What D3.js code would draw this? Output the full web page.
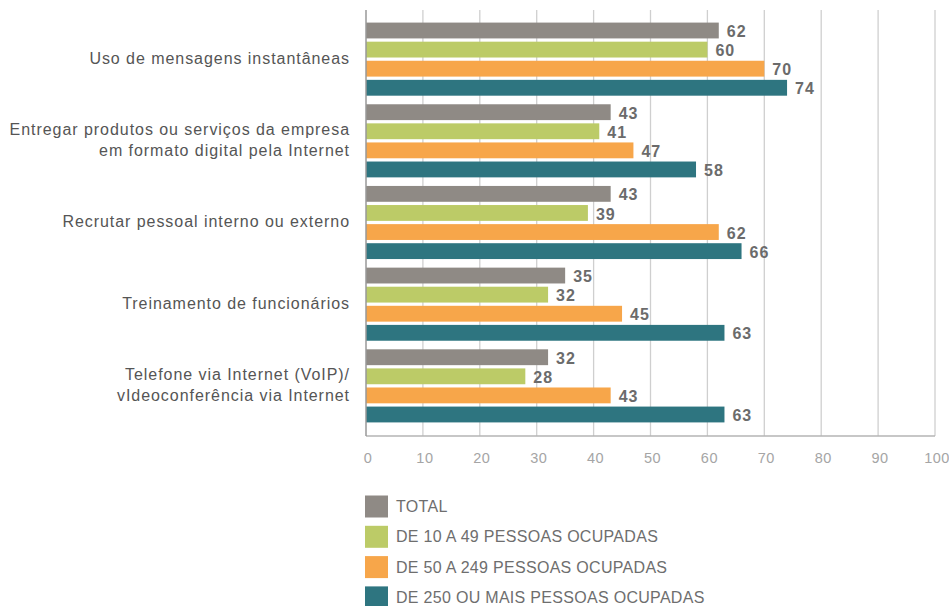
<!DOCTYPE html>
<html>
<head>
<meta charset="utf-8">
<script src="https://cdn.jsdelivr.net/npm/d3@7"></script>
<style>
  body { margin: 0; background: #fff; font-family: "Liberation Sans", Arial, sans-serif; }
</style>
</head>
<body>
<script>
const categories = [
  ['Uso de mensagens instantâneas'],
  ['Entregar produtos ou serviços da empresa', 'em formato digital pela Internet'],
  ['Recrutar pessoal interno ou externo'],
  ['Treinamento de funcionários'],
  ['Telefone via Internet (VoIP)/', 'vIdeoconferência via Internet']
]
const seriesNames = ['TOTAL', 'DE 10 A 49 PESSOAS OCUPADAS', 'DE 50 A 249 PESSOAS OCUPADAS', 'DE 250 OU MAIS PESSOAS OCUPADAS']
const total = [62, 43, 43, 35, 32]
const small = [60, 41, 39, 32, 28]
const medium = [70, 47, 62, 45, 43]
const large = [74, 58, 66, 63, 63]
const ticks = [0, 10, 20, 30, 40, 50, 60, 70, 80, 90, 100]
const colors = ['#8f8a85', '#bccb67', '#f7a64a', '#2e7580']

const series = [total, small, medium, large]

const m = { width: 949, height: 606, left: 366, right: 935, top: 10, bottom: 436 }

const svg = d3.select('body').append('svg')
    .attr('width', m.width)
    .attr('height', m.height)

const x = d3.scaleLinear().domain([0, 100]).range([m.left, m.right])

const y = d3.scaleBand()
    .domain(d3.range(categories.length))
    .range([18.5, 426.5])
    .paddingInner(0.105)
    .paddingOuter(0.05)

const ySub = d3.scaleBand()
    .domain(d3.range(series.length))
    .range([0, y.bandwidth()])
    .paddingInner(0.17)

// gridlines
svg.append('g')
    .selectAll('line')
    .data(ticks.slice(1))
    .enter()
    .append('line')
    .attr('x1', d => x(d)).attr('x2', d => x(d))
    .attr('y1', m.top).attr('y2', m.bottom)
    .attr('stroke', '#cfcfcf')
    .attr('stroke-width', 1.3)

svg.append('line')
    .attr('x1', m.left).attr('x2', m.right)
    .attr('y1', m.bottom).attr('y2', m.bottom)
    .attr('stroke', '#b5b5b5')
    .attr('stroke-width', 1.3)

// bars
categories.forEach((c, i) => {
    const grp = svg.append('g').attr('transform', `translate(0,${y(i)})`)
    series.forEach((s, j) => {
        grp.append('rect')
            .attr('x', x(0))
            .attr('y', ySub(j))
            .attr('width', x(s[i]) - x(0))
            .attr('height', ySub.bandwidth())
            .attr('fill', colors[j])
        grp.append('text')
            .attr('x', x(s[i]) + 8)
            .attr('y', ySub(j) + ySub.bandwidth() / 2 + 1)
            .attr('dy', '0.35em')
            .style('font-size', '16px')
            .style('font-weight', 'bold')
            .style('letter-spacing', '1px')
            .attr('fill', '#6b6b6b')
            .text(s[i])
    })

    const lines = c
    grp.append('text')
        .attr('text-anchor', 'end')
        .style('font-size', '16px')
        .style('letter-spacing', '0.95px')
        .attr('fill', '#555')
        .selectAll('tspan')
        .data(lines)
        .enter()
        .append('tspan')
        .attr('x', 350)
        .attr('y', (d, k) => y.bandwidth() / 2 + (k - (lines.length - 1) / 2) * 20.5 - 1)
        .attr('dy', '0.35em')
        .text(d => d)
})

// left axis line
svg.append('line')
    .attr('x1', m.left).attr('x2', m.left)
    .attr('y1', m.top).attr('y2', m.bottom)
    .attr('stroke', '#999')
    .attr('stroke-width', 1.5)

// tick labels
svg.append('g')
    .selectAll('text')
    .data(ticks)
    .enter()
    .append('text')
    .attr('x', d => x(d) + 2)
    .attr('y', 463)
    .attr('text-anchor', 'middle')
    .style('font-size', '14.5px')
    .style('letter-spacing', '0.5px')
    .attr('fill', '#a5a5a5')
    .text(d => d)

// legend
const legend = svg.append('g')
seriesNames.forEach((n, j) => {
    legend.append('rect')
        .attr('x', 365)
        .attr('y', 495.5 + j * 30.3)
        .attr('width', 23)
        .attr('height', 22)
        .attr('fill', colors[j])
    legend.append('text')
        .attr('x', 396)
        .attr('y', 506.5 + j * 30.3)
        .attr('dy', '0.35em')
        .style('font-size', '16px')
        .style('letter-spacing', '0.3px')
        .attr('fill', '#6e6e6e')
        .text(n)
})
</script>
</body>
</html>
